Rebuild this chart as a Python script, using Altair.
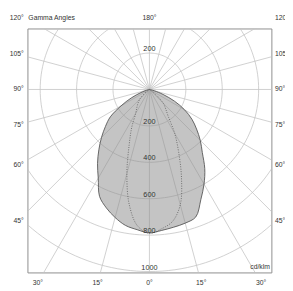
import math
import altair as alt
import pandas as pd

# ---- data (cd/klm) ----
gamma = list(range(0, 95, 5))  # gamma angle, degrees from nadir
i_c0 = [790, 777, 768, 760, 745, 668, 600, 530, 452, 395, 338, 285, 223, 152, 80, 28, 6, 0, 0]
i_c180 = [788, 773, 758, 728, 692, 648, 562, 497, 432, 372, 315, 262, 180, 110, 50, 16, 4, 0, 0]
i_c90 = [785, 768, 735, 655, 515, 380, 277, 180, 139, 109, 60, 15, 0, 0, 0, 0, 0, 0, 0]
i_c270 = [790, 752, 640, 478, 326, 230, 150, 120, 97, 75, 40, 10, 0, 0, 0, 0, 0, 0, 0]

radii = [200, 400, 600, 800, 1000]
grid_angles = list(range(0, 360, 15))
side_angles = [45, 60, 75, 90, 105, 120]
bottom_angles = [-30, -15, 0, 15, 30]

XDOM = [-670, 670]
YDOM = [-1005, 335]
TXT = "#333333"
FONT = "Liberation Sans"


def curve(left, right, name):
    rows = []
    k = 0
    for g, v in reversed(list(zip(gamma, left))):
        rows.append({"curve": name, "k": k, "a": -g, "I": v})
        k += 1
    for g, v in list(zip(gamma, right))[1:]:
        rows.append({"curve": name, "k": k, "a": g, "I": v})
        k += 1
    return pd.DataFrame(rows)


main = curve(i_c180, i_c0, "C0-C180")
dotted = curve(i_c270, i_c90, "C90-C270")

xs = alt.Scale(domain=XDOM, nice=False, zero=False)
ys = alt.Scale(domain=YDOM, nice=False, zero=False)
X = lambda f: alt.X(f, type="quantitative", scale=xs, axis=None)
Y = lambda f: alt.Y(f, type="quantitative", scale=ys, axis=None)

polar = dict(
    px="datum.I * sin(datum.a * PI / 180)",
    py="-datum.I * cos(datum.a * PI / 180)",
)

circle_rows = [{"r": r, "t": t} for r in radii for t in range(0, 362, 2)]
circles = (
    alt.Chart(pd.DataFrame(circle_rows))
    .transform_calculate(
        px="datum.r * sin(datum.t * PI / 180)",
        py="-datum.r * cos(datum.t * PI / 180)",
    )
    .mark_line(clip=True, color="#c4c4c4", strokeWidth=0.8)
    .encode(x=X("px"), y=Y("py"), detail="r:N", order="t:Q")
)

spokes = (
    alt.Chart(pd.DataFrame({"a": grid_angles}))
    .transform_calculate(
        x0="0",
        y0="0",
        px="3000 * sin(datum.a * PI / 180)",
        py="-3000 * cos(datum.a * PI / 180)",
    )
    .mark_rule(clip=True, color="#c4c4c4", strokeWidth=0.8)
    .encode(x=X("x0"), y=Y("y0"), x2="px:Q", y2="py:Q")
)

fill = (
    alt.Chart(main)
    .transform_calculate(**polar)
    .mark_line(
        clip=True,
        fill="#8a8a8a",
        fillOpacity=0.5,
        stroke="#555555",
        strokeWidth=0.9,
        interpolate="catmull-rom",
    )
    .encode(x=X("px"), y=Y("py"), order="k:Q")
)

dots = (
    alt.Chart(dotted)
    .transform_calculate(**polar)
    .mark_line(
        clip=True,
        color="#555555",
        strokeWidth=0.8,
        strokeDash=[1, 1.5],
        interpolate="catmull-rom",
    )
    .encode(x=X("px"), y=Y("py"), order="k:Q")
)

# radius labels
rl = [{"t": str(r), "px": 0, "py": -r} for r in radii] + [
    {"t": str(r), "px": 0, "py": r} for r in radii if r < YDOM[1]
]
rlabels = (
    alt.Chart(pd.DataFrame(rl))
    .mark_text(fontSize=7.5, font=FONT, color=TXT, baseline="bottom")
    .encode(x=X("px"), y=Y("py"), text="t:N")
)

# angle labels placed where each ray meets a rectangle just outside the frame
W = 721
TOP = 390
side = []
for g in side_angles:
    yy = -W * math.cos(math.radians(g)) / math.sin(math.radians(g))
    yy = min(yy, TOP)
    side.append({"t": f"{g}°", "px": -690, "py": yy, "al": "right"})
    side.append({"t": f"{g}°", "px": 690, "py": yy, "al": "left"})
HB = 1062
for g in bottom_angles:
    side.append({"t": f"{abs(g)}°", "px": HB * math.tan(math.radians(g)), "py": -HB, "al": "center"})
side.append({"t": "180°", "px": 0, "py": TOP, "al": "center"})
side.append({"t": "Gamma Angles", "px": XDOM[0] + 5, "py": TOP, "al": "left"})
side_df = pd.DataFrame(side)


def txt(df, align):
    return (
        alt.Chart(df[df["al"] == align])
        .mark_text(fontSize=7, font=FONT, color=TXT, align=align, baseline="middle")
        .encode(x=X("px"), y=Y("py"), text="t:N")
    )


unit = (
    alt.Chart(pd.DataFrame({"t": ["cd/klm"], "px": [XDOM[1] - 8], "py": [-973]}))
    .mark_text(fontSize=7, font=FONT, color=TXT, align="right", baseline="middle")
    .encode(x=X("px"), y=Y("py"), text="t:N")
)

chart = (
    alt.layer(
        circles, spokes, fill, dots, rlabels,
        txt(side_df, "left"), txt(side_df, "right"), txt(side_df, "center"), unit,
    )
    .properties(
        width=251,
        height=251,
        autosize=alt.AutoSizeParams(type="none"),
        padding={"left": 20, "top": 17, "right": 14, "bottom": 15},
        background="white",
    )
    .configure_view(stroke="#8c8c8c", strokeWidth=1)
)

chart.save("out.html", embed_options={"renderer": "svg", "actions": False})
